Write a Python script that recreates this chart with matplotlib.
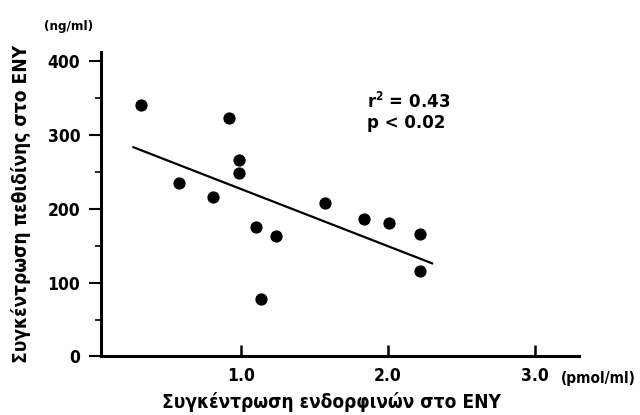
import matplotlib
matplotlib.use('Agg')
import matplotlib.pyplot as plt
from matplotlib.ticker import MultipleLocator

# endorphin concentration (pmol/ml) vs pethidine concentration (ng/ml)
endorphin = [0.32, 0.58, 0.81, 0.92, 0.99, 0.99, 1.10, 1.14, 1.24, 1.57, 1.84, 2.01, 2.22, 2.22]
pethidine = [340, 234, 216, 323, 266, 248, 175, 78, 163, 207, 186, 181, 165, 115]

# regression line end points
fit_x = [0.27, 2.30]
fit_y = [283, 126]

x_ticks = [1.0, 2.0, 3.0]
y_ticks = [0, 100, 200, 300, 400]

plt.rcParams['font.family'] = ['DejaVu Sans']
plt.rcParams['font.weight'] = 'bold'
plt.rcParams['font.stretch'] = 'condensed'

fig = plt.figure(figsize=(6.4, 4.15), dpi=100)
ax = fig.add_axes([0.158, 0.141, 0.747, 0.734])

ax.plot(endorphin, pethidine, 'o', color='black', markersize=8, markeredgewidth=0.8)
ax.plot(fit_x, fit_y, '-', color='black', linewidth=1.6)

ax.set_xlim(0.05, 3.30)
ax.set_ylim(0, 412)

for side in ['top', 'right']:
    ax.spines[side].set_visible(False)
for side in ['left', 'bottom']:
    ax.spines[side].set_linewidth(2.2)

ax.set_xticks(x_ticks)
ax.set_xticklabels([f'{v:.1f}' for v in x_ticks], fontsize=12.5, fontweight='bold')
ax.tick_params(axis='x', direction='in', length=8, width=1.8, pad=7.5)

ax.set_yticks(y_ticks)
ax.set_yticklabels([str(v) for v in y_ticks], fontsize=12.5, fontweight='bold')
ax.yaxis.set_minor_locator(MultipleLocator(50))
ax.tick_params(axis='y', which='major', direction='out', length=9, width=1.5, pad=6)
ax.tick_params(axis='y', which='minor', direction='out', length=4, width=1.2)

ax.set_xlabel('Συγκέντρωση ενδορφινών στο ΕΝΥ', fontsize=13.7, fontweight='bold', labelpad=5)
ax.xaxis.label.set_x(0.481)
ax.set_ylabel('Συγκέντρωση πεθιδίνης στο ΕΝΥ', fontsize=13.7, fontweight='bold', labelpad=12)

fig.text(0.068, 0.935, '(ng/ml)', fontsize=9.5, fontweight='bold', ha='left', va='center')
fig.text(0.877, 0.089, '(pmol/ml)', fontsize=11, fontweight='bold', ha='left', va='center')

ax.text(1.86, 331, 'r$^2$ = 0.43\np < 0.02', fontsize=12, fontweight='bold',
        family=['DejaVu Sans'], stretch='normal', ha='left', va='center', linespacing=1.15)

fig.savefig('out.png', dpi=100)
